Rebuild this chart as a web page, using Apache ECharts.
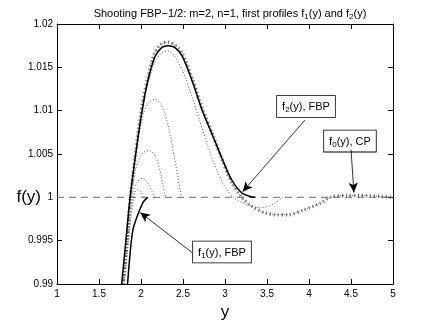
<!DOCTYPE html>
<html>
<head>
<meta charset="utf-8">
<script src="https://cdn.jsdelivr.net/npm/echarts@6/dist/echarts.min.js"></script>
<style>
  html, body { margin: 0; padding: 0; background: #fff; }
  #chart { width: 435px; height: 326px; }
</style>
</head>
<body>
<div id="chart"></div>
<script>
// profile data, [y, f(y)]
var f2Fbp = [[1.77,0.99],[1.82,0.995],[1.87,1.0],[1.94,1.0052],[2.01,1.0098],[2.08,1.0134],[2.17,1.0163],[2.25,1.0173],[2.32,1.0175],[2.40,1.0173],[2.49,1.0163],[2.61,1.0134],[2.73,1.0100],[2.85,1.0072],[2.96,1.0046],[3.08,1.0020],[3.20,1.0005],[3.30,1.0001],[3.36,1.0]];
var f1Fbp = [[1.84,0.99],[1.87,0.9935],[1.905,0.9963],[1.97,0.9982],[2.03,0.9995],[2.08,1.0]];
var f0Cp = [[1.79,0.99],[1.835,0.995],[1.875,1.0],[1.94,1.0055],[2.0,1.0098],[2.08,1.0137],[2.16,1.0166],[2.24,1.0177],[2.32,1.0179],[2.40,1.0176],[2.49,1.0166],[2.61,1.0137],[2.73,1.0103],[2.85,1.0073],[2.96,1.0045],[3.08,1.0017],[3.2,1.0],[3.3,0.9991],[3.45,0.9983],[3.6,0.9980],[3.75,0.9980],[3.95,0.9986],[4.13,0.9993],[4.25,1.0],[4.45,1.0002],[4.65,1.0002],[4.85,1.0001],[5.0,1.0]];
var shoot1 = [[1.8,0.99],[1.85,0.995],[1.89,0.9985],[1.93,1.0006],[1.96,1.0009],[2.0,1.0006],[2.04,1.0]];
var shoot2 = [[1.795,0.99],[1.845,0.995],[1.89,0.9995],[1.95,1.0017],[2.02,1.0022],[2.09,1.0015],[2.16,1.0]];
var shoot3 = [[1.785,0.99],[1.83,0.995],[1.88,1.0],[1.95,1.0037],[2.02,1.0051],[2.1,1.0054],[2.18,1.0045],[2.24,1.0025],[2.29,1.0]];
var shoot4 = [[1.78,0.99],[1.83,0.995],[1.875,1.0],[1.95,1.0057],[2.03,1.0097],[2.1,1.0110],[2.17,1.0113],[2.25,1.0105],[2.33,1.0080],[2.40,1.0045],[2.48,1.0]];
var shoot5 = [[1.775,0.99],[1.825,0.995],[1.87,1.0],[1.94,1.0052],[2.0,1.0093],[2.08,1.0130],[2.17,1.0157],[2.25,1.0167],[2.32,1.0169],[2.40,1.0163],[2.5,1.0145],[2.6,1.0118],[2.7,1.0088],[2.8,1.0058],[2.9,1.0032],[3.0,1.0012],[3.1,1.0],[3.25,0.9992],[3.42,0.9988],[3.55,0.9991],[3.69,1.0]];
var farField = [[1, 1], [5, 1]];

// annotations: [from, to] arrows and box corners, data coords
var arrowF2 = [[3.95, 1.0089], [3.21, 1.00064]];
var arrowF0 = [[4.50, 1.0055], [4.535, 1.00055]];
var arrowF1 = [[2.61, 0.99362], [1.99, 0.99826]];
var boxF2 = [3.62, 1.0117];
var boxF0 = [4.18, 1.0077];
var boxF1 = [2.62, 0.9949];
var yNameAt = 1;

var chart = echarts.init(document.getElementById('chart'));
var font = 'Liberation Sans, Arial, sans-serif';

function dotted(data) {
    return {
        type: 'line', data: data, smooth: 0.3, showSymbol: false, silent: true,
        lineStyle: { color: '#555', width: 1, type: [1, 2] }
    };
}

function arrow(pair) {
    return [{ coord: pair[0] }, { coord: pair[1] }];
}

var option = {
    animation: false,
    title: {
        text: '{n|Shooting FBP\u22121/2: m=2, n=1, first profiles f}{s|1}{n|(y) and f}{s|2}{n|(y)}',
        left: 225, top: 2, textAlign: 'center',
        textStyle: {
            fontWeight: 'normal',
            rich: {
                n: { fontSize: 11, fontFamily: font, color: '#000', fontWeight: 'normal' },
                s: { fontSize: 8, fontFamily: font, color: '#000', fontWeight: 'normal', padding: [6, 0, 0, 0] }
            }
        }
    },
    grid: { left: 57, right: 42, top: 24, bottom: 37 },
    xAxis: [{
        type: 'value', min: 1, max: 5, interval: 0.5,
        axisLine: { lineStyle: { color: '#000', width: 1 } },
        axisTick: { inside: true, length: 5, lineStyle: { color: '#000' } },
        axisLabel: { color: '#000', fontSize: 10, fontFamily: font, margin: 5 },
        splitLine: { show: false },
        name: 'y', nameLocation: 'middle', nameGap: 20, nameMoveOverlap: false,
        nameTextStyle: { fontSize: 17, fontFamily: font, color: '#000' }
    }, {
        type: 'value', min: 1, max: 5, interval: 0.5, position: 'top',
        axisLine: { lineStyle: { color: '#000', width: 1 } },
        axisTick: { inside: true, length: 5, lineStyle: { color: '#000' } },
        axisLabel: { show: false }, splitLine: { show: false }
    }],
    yAxis: [{
        type: 'value', min: 0.99, max: 1.02, interval: 0.005,
        axisLine: { show: true, lineStyle: { color: '#000', width: 1 } },
        axisTick: { show: true, inside: true, length: 5, lineStyle: { color: '#000' } },
        axisLabel: {
            color: '#000', fontSize: 10, fontFamily: font, margin: 4,
            formatter: function (v) { return String(+v.toFixed(3)); }
        },
        splitLine: { show: false }
    }, {
        type: 'value', min: 0.99, max: 1.02, interval: 0.005, position: 'right',
        axisLine: { show: true, lineStyle: { color: '#000', width: 1 } },
        axisTick: { show: true, inside: true, length: 5, lineStyle: { color: '#000' } },
        axisLabel: { show: false }, splitLine: { show: false }
    }],
    series: [
        {
            type: 'line', data: farField, showSymbol: false, silent: true,
            lineStyle: { color: '#8c8c8c', width: 1.4, type: [7, 5] }
        },
        dotted(shoot1), dotted(shoot2), dotted(shoot3), dotted(shoot4), dotted(shoot5),
        dotted(f0Cp),
        {
            // '+' markers on the CP profile
            type: 'line', data: f0Cp, smooth: 0.3, showSymbol: false, silent: true,
            lineStyle: { color: '#666', width: 3.5, type: [1, 3] }
        },
        {
            type: 'line', data: f2Fbp, smooth: 0.3, showSymbol: false, silent: true,
            lineStyle: { color: '#000', width: 1.5 }
        },
        {
            type: 'line', data: f1Fbp, smooth: 0.3, showSymbol: false, silent: true,
            lineStyle: { color: '#000', width: 1.5 },
            markLine: {
                silent: true, symbol: ['none', 'arrow'], symbolSize: [7, 10],
                label: { show: false },
                lineStyle: { color: '#000', width: 0.8, type: 'solid' },
                data: [arrow(arrowF2), arrow(arrowF0), arrow(arrowF1)]
            }
        }
    ]
};
chart.setOption(option);

var labelRich = {
    n: { fontSize: 11, fontFamily: font, color: '#000' },
    s: { fontSize: 8, fontFamily: font, color: '#000', padding: [6, 0, 0, 0] }
};
function box(corner, sub, rest) {
    var p = chart.convertToPixel({ gridIndex: 0 }, corner);
    return {
        type: 'text', x: p[0], y: p[1], silent: true,
        style: {
            text: '{n|f}{s|' + sub + '}{n|' + rest + '}',
            rich: labelRich,
            backgroundColor: '#fff', borderColor: '#000', borderWidth: 0.8,
            padding: [4, 5, 3, 5]
        }
    };
}
var nameY = chart.convertToPixel({ gridIndex: 0 }, [1, yNameAt])[1];
chart.setOption({
    graphic: [
        box(boxF2, '2', '(y), FBP'),
        box(boxF0, '0', '(y), CP'),
        box(boxF1, '1', '(y), FBP'),
        {
            type: 'text', x: 41, y: nameY, silent: true,
            style: {
                text: 'f(y)', fontSize: 17, fontFamily: font, fill: '#000',
                align: 'right', verticalAlign: 'middle'
            }
        }
    ]
});
</script>
</body>
</html>
